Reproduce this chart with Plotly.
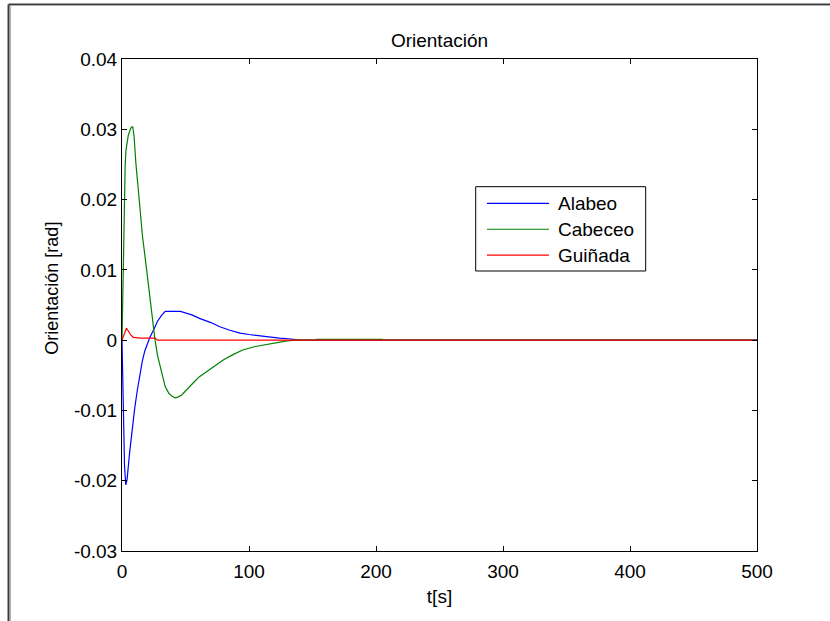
import plotly.graph_objects as go

# Roll (Alabeo) response
t_alabeo = [0, 1, 2, 3, 4, 6, 8, 10, 12, 14, 16, 18, 20, 22, 25, 28, 31, 34, 40, 46,
            55, 61, 70, 77, 85, 93, 100, 109, 117, 124, 131, 137, 140, 500]
v_alabeo = [0, -0.010, -0.018, -0.0206, -0.0198, -0.0160, -0.0125, -0.0097, -0.0072,
            -0.0050, -0.0030, -0.0015, -0.0005, 0.0004, 0.0015, 0.0027, 0.0035, 0.0041,
            0.0041, 0.0041, 0.0036, 0.0031, 0.0025, 0.0019, 0.0014, 0.0010, 0.0008,
            0.0006, 0.0004, 0.0003, 0.0002, 0.0001, 0, 0]

# Pitch (Cabeceo) response
t_cabeceo = [0, 1, 1.6, 2.5, 3.1, 5, 7, 8.4, 9.5, 11, 13.6, 16, 19.4, 22.5, 26, 28, 30,
             32, 34, 37, 39.5, 41.7, 44, 47, 51, 56, 61, 70, 80, 87, 95, 105, 114, 122,
             130, 136, 152, 153, 205, 206, 500]
v_cabeceo = [0, 0.012, 0.019, 0.025, 0.027, 0.0292, 0.0302, 0.0304, 0.029, 0.025,
             0.0199, 0.015, 0.010, 0.005, 0.0, -0.0022, -0.0038, -0.0054, -0.0066,
             -0.0076, -0.0080, -0.0082, -0.0081, -0.0078, -0.0071, -0.0061, -0.0052,
             -0.0040, -0.0028, -0.0021, -0.0014, -0.0009, -0.0006, -0.0003, -0.0001,
             0, 0, 0.00012, 0.00012, 0, 0]

# Yaw (Guiñada) response
t_guinada = [0, 2, 3.5, 5, 7, 9, 15, 26, 28, 500]
v_guinada = [0, 0.0010, 0.0017, 0.0013, 0.0007, 0.0004, 0.0003, 0.0003, 0, 0]

series_names = ["Alabeo", "Cabeceo", "Guiñada"]
series_colors = ["#0000FF", "#008000", "#FF0000"]

x_ticks = [0, 100, 200, 300, 400, 500]
y_ticks = [-0.03, -0.02, -0.01, 0, 0.01, 0.02, 0.03, 0.04]
y_labels = ["-0.03", "-0.02", "-0.01", "0", "0.01", "0.02", "0.03", "0.04"]

FONT = "Liberation Sans, Arial, sans-serif"
FS = 19

fig = go.Figure()
for (tx, vy), name, color in zip([(t_alabeo, v_alabeo), (t_cabeceo, v_cabeceo),
                                  (t_guinada, v_guinada)], series_names, series_colors):
    fig.add_trace(go.Scatter(x=tx, y=vy, mode="lines", name=name, showlegend=False,
                             line=dict(color=color, width=1.2)))

axis_common = dict(showgrid=False, zeroline=False, showline=True, linecolor="black",
                   linewidth=1, mirror="ticks", ticks="inside", ticklen=5,
                   tickcolor="black", tickfont=dict(family=FONT, size=FS, color="black"))

fig.update_xaxes(range=[0, 500], tickvals=x_ticks, ticktext=[str(v) for v in x_ticks],
                 ticklabelstandoff=3,
                 title=dict(text="t[s]", font=dict(family=FONT, size=FS, color="black"),
                            standoff=8),
                 **axis_common)
fig.update_yaxes(range=[-0.03, 0.04], tickvals=y_ticks, ticktext=y_labels,
                 **axis_common)

# Y-axis label
fig.add_annotation(xref="paper", yref="paper", x=-0.1107, y=0.5346,
                   text="Orientación [rad]", textangle=-90, showarrow=False,
                   xanchor="center", yanchor="middle",
                   font=dict(family=FONT, size=18, color="black"))

# Legend box with line samples and labels
lg_x0, lg_x1, lg_y0, lg_y1 = 0.557, 0.8247, 0.5691, 0.7405
row_y = [0.7065, 0.6540, 0.6014]
fig.add_shape(type="rect", xref="paper", yref="paper", x0=lg_x0, x1=lg_x1,
              y0=lg_y0, y1=lg_y1, line=dict(color="black", width=1),
              fillcolor="white", layer="above")
for name, color, ry in zip(series_names, series_colors, row_y):
    fig.add_shape(type="line", xref="paper", yref="paper", x0=0.5748, x1=0.6724,
                  y0=ry, y1=ry, line=dict(color=color, width=1.2), layer="above")
    fig.add_annotation(xref="paper", yref="paper", x=0.6827, y=ry, text=name,
                       showarrow=False, xanchor="left", yanchor="middle",
                       font=dict(family=FONT, size=FS, color="black"))

# Outer figure frame (left and top edges)
frame = [
    dict(x0=-0.1787, x1=-0.1787, y0=-0.2, y1=1.1108, color="#3a3a3a", w=2),
    dict(x0=-0.1787, x1=1.2, y0=1.1108, y1=1.1108, color="#3a3a3a", w=2),
    dict(x0=-0.1755, x1=-0.1755, y0=-0.2, y1=1.1088, color="#b0b0b0", w=1),
    dict(x0=-0.1755, x1=1.2, y0=1.1088, y1=1.1088, color="#b0b0b0", w=1),
]
for f in frame:
    fig.add_shape(type="line", xref="paper", yref="paper", x0=f["x0"], x1=f["x1"],
                  y0=f["y0"], y1=f["y1"], line=dict(color=f["color"], width=f["w"]))

fig.update_layout(
    width=830, height=621,
    margin=dict(l=122, r=73, t=59, b=70),
    paper_bgcolor="white", plot_bgcolor="white",
    title=dict(text="Orientación", x=0.5, xanchor="center", xref="paper",
               y=1 - 40 / 621, yanchor="middle",
               font=dict(family=FONT, size=FS, color="black")),
    font=dict(family=FONT, size=FS, color="black"),
    showlegend=False,
)

fig.write_html("out.html")
